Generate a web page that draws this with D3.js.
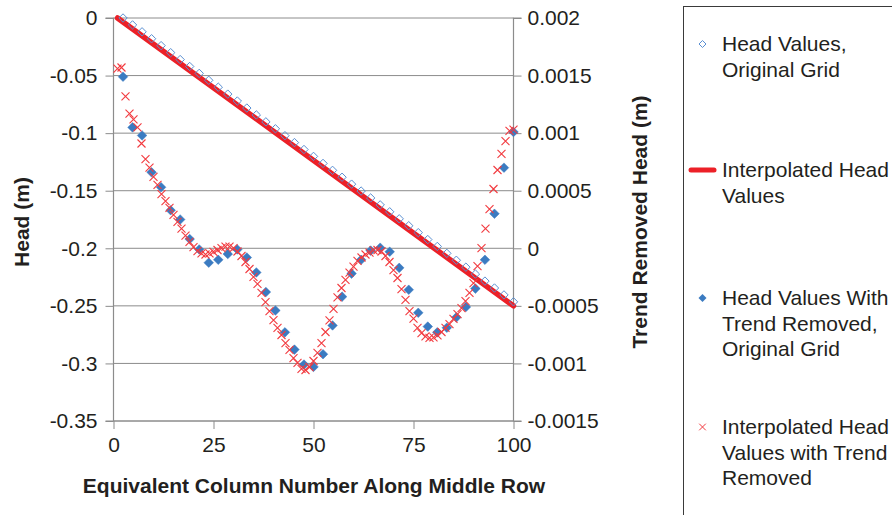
<!DOCTYPE html>
<html><head><meta charset="utf-8">
<script src="https://cdn.jsdelivr.net/npm/d3@7"></script>
<style>
html,body{margin:0;padding:0;background:#fff;}
svg{display:block;font-family:"Liberation Sans",Arial,Helvetica,sans-serif;}
</style></head>
<body>
<svg id="chart" width="892" height="515"></svg>
<script>
// ---- data ----
const xOriginal = [2.38,4.76,7.14,9.52,11.90,14.29,16.67,19.05,21.43,23.81,26.19,28.57,30.95,33.33,35.71,38.10,40.48,42.86,45.24,47.62,50.00,52.38,54.76,57.14,59.52,61.90,64.29,66.67,69.05,71.43,73.81,76.19,78.57,80.95,83.33,85.71,88.10,90.48,92.86,95.24,97.62,100];
const headOriginal = [0,-0.0060,-0.0120,-0.0180,-0.0240,-0.0301,-0.0361,-0.0421,-0.0481,-0.0541,-0.0601,-0.0661,-0.0721,-0.0782,-0.0842,-0.0902,-0.0962,-0.1022,-0.1082,-0.1142,-0.1202,-0.1263,-0.1323,-0.1383,-0.1443,-0.1503,-0.1563,-0.1623,-0.1683,-0.1744,-0.1804,-0.1864,-0.1924,-0.1984,-0.2044,-0.2104,-0.2164,-0.2224,-0.2285,-0.2345,-0.2405,-0.2465];
const trendRemovedOriginal = [0.00149,0.00105,0.00098,0.00066,0.00053,0.00033,0.00025,0.00008,-0.00001,-0.000125,-0.0001,-0.00005,-0.00001,-0.00008,-0.00021,-0.00038,-0.00054,-0.00073,-0.00088,-0.00101,-0.00103,-0.00092,-0.00067,-0.00042,-0.00022,-0.0001,-0.00002,0.000005,-0.00003,-0.00017,-0.00036,-0.00056,-0.00068,-0.00073,-0.00069,-0.0006,-0.00051,-0.00035,-0.0001,0.0003,0.0007,0.00101];
const xInterpolated = [1,2,3,4,5,6,7,8,9,10,11,12,13,14,15,16,17,18,19,20,21,22,23,24,25,26,27,28,29,30,31,32,33,34,35,36,37,38,39,40,41,42,43,44,45,46,47,48,49,50,51,52,53,54,55,56,57,58,59,60,61,62,63,64,65,66,67,68,69,70,71,72,73,74,75,76,77,78,79,80,81,82,83,84,85,86,87,88,89,90,91,92,93,94,95,96,97,98,99,100];
const trendRemovedInterpolated = [0.00156,0.00157,0.00132,0.00117,0.00112,0.00105,0.00091,0.000775,0.0007,0.00062,0.00055,0.00047,0.00041,0.00035,0.00029,0.00023,0.00017,0.00011,0.000055,0.00001,-0.000024,-0.000045,-0.000054,-0.000045,-0.000032,-0.000015,0.000002,0.000015,0.000015,0.000002,-0.000028,-0.000067,-0.000119,-0.00018,-0.000249,-0.00031,-0.000388,-0.000467,-0.000545,-0.000623,-0.000692,-0.000753,-0.000823,-0.000883,-0.000953,-0.000996,-0.001048,-0.001057,-0.001031,-0.000979,-0.000909,-0.000823,-0.000727,-0.000627,-0.000527,-0.000427,-0.000345,-0.000275,-0.000212,-0.00016,-0.00011,-0.00008,-0.000054,-0.000037,-0.000018,-0.000015,-0.000028,-0.000067,-0.000119,-0.000189,-0.000258,-0.000354,-0.000449,-0.000545,-0.00061,-0.000692,-0.000736,-0.000766,-0.000779,-0.000773,-0.000757,-0.000727,-0.000692,-0.000658,-0.000614,-0.000571,-0.000519,-0.000458,-0.000388,-0.000302,-0.000154,0.000002,0.00017,0.00034,0.000515,0.00068,0.00082,0.00093,0.00102,0.00103];
const xLine = [1,100];
const headLine = [0,-0.25];
const xTicks = [0,25,50,75,100];
const leftTicks = [0,-0.05,-0.1,-0.15,-0.2,-0.25,-0.3,-0.35];
const rightTicks = [0.002,0.0015,0.001,0.0005,0,-0.0005,-0.001,-0.0015];
const legendLabels = [["Head Values,","Original Grid"],["Interpolated Head","Values"],["Head Values With","Trend Removed,","Original Grid"],["Interpolated Head","Values with Trend","Removed"]];

// ---- drawing ----
const svg = d3.select("#chart");
const L = 113.5, R = 513.5, T = 18, B = 421;
const x = d3.scaleLinear().domain([0,100]).range([L,R]);
const yL = d3.scaleLinear().domain([-0.35,0]).range([B,T]);
const yR = d3.scaleLinear().domain([-0.0015,0.002]).range([B,T]);
const gridColor = "#8c8c8c", textColor = "#231f20", fs = 21;
const RED = "#ec2027", XRED = "#f23a3f", BLUE = "#3b7bc1", LBLUE = "#5a8fd2";

// gridlines
svg.append("g").selectAll("line").data(leftTicks).join("line")
  .attr("x1", L).attr("x2", R).attr("y1", d => yL(d)).attr("y2", d => yL(d))
  .attr("stroke", gridColor).attr("stroke-width", 1);

// left axis
const gl = svg.append("g").attr("transform", `translate(${L},0)`)
  .call(d3.axisLeft(yL).tickValues(leftTicks).tickSize(8).tickPadding(8).tickFormat(d => String(d)));
// right axis
const gr = svg.append("g").attr("transform", `translate(${R},0)`)
  .call(d3.axisRight(yR).tickValues(rightTicks).tickSize(8).tickPadding(6).tickFormat(d => String(d)));
// bottom axis
const gb = svg.append("g").attr("transform", `translate(0,${B})`)
  .call(d3.axisBottom(x).tickValues(xTicks).tickSize(8).tickPadding(8).tickFormat(d => String(d)));
[gl,gr,gb].forEach(g => {
  g.select(".domain").attr("stroke", gridColor).attr("stroke-width", 1.2);
  g.selectAll(".tick line").attr("stroke", gridColor).attr("stroke-width", 1);
  g.selectAll("text").attr("fill", textColor).style("font-size", fs + "px")
    .style("font-family", '"Liberation Sans",Arial,sans-serif');
});
gl.select(".domain").attr("d", `M-8,${B}H0V${T}H-8`);
gr.select(".domain").attr("d", `M8,${B}H0V${T}H8`);
gb.select(".domain").attr("d", `M${L},0H${R}`);

// titles
svg.append("text").attr("transform", "translate(29,222) rotate(-90)").attr("text-anchor","middle")
  .attr("fill", textColor).style("font-size", fs+"px").style("font-weight","bold").text("Head (m)");
svg.append("text").attr("transform", "translate(647,222) rotate(-90)").attr("text-anchor","middle")
  .attr("fill", textColor).style("font-size", fs+"px").style("font-weight","bold").text("Trend Removed Head (m)");
svg.append("text").attr("x", 314).attr("y", 493).attr("text-anchor","middle")
  .attr("fill", textColor).style("font-size", fs+"px").style("font-weight","bold").text("Equivalent Column Number Along Middle Row");

// series
const diamondPath = r => `M0,${-r}L${r},0L0,${r}L${-r},0Z`;
const crossPath = r => `M${-r},${-r}L${r},${r}M${-r},${r}L${r},${-r}`;

svg.append("path").datum(xLine.map((v,i)=>[v,headLine[i]]))
  .attr("d", d3.line().x(d=>x(d[0])).y(d=>yL(d[1])))
  .attr("fill","none").attr("stroke", RED).attr("stroke-width", 5.5).attr("stroke-linecap","round");

svg.append("g").selectAll("path").data(xOriginal.map((v,i)=>[v,headOriginal[i]])).join("path")
  .attr("transform", d => `translate(${x(d[0])},${yL(d[1])})`)
  .attr("d", diamondPath(4.2)).attr("fill","none").attr("stroke", LBLUE).attr("stroke-width", 1);

svg.append("g").selectAll("path").data(xOriginal.map((v,i)=>[v,trendRemovedOriginal[i]])).join("path")
  .attr("transform", d => `translate(${x(d[0])},${yR(d[1])})`)
  .attr("d", diamondPath(4.8)).attr("fill", BLUE).attr("stroke", BLUE).attr("stroke-width", 0.5);

svg.append("g").selectAll("path").data(xInterpolated.map((v,i)=>[v,trendRemovedInterpolated[i]])).join("path")
  .attr("transform", d => `translate(${x(d[0])},${yR(d[1])})`)
  .attr("d", crossPath(4)).attr("fill","none").attr("stroke", XRED).attr("stroke-width", 1.1);

// legend
svg.append("rect").attr("x", 683.5).attr("y", 6.5).attr("width", 300).attr("height", 600)
  .attr("fill","none").attr("stroke","#3a3a3a").attr("stroke-width",1);
const legY = [44, 170, 298, 427];
const lg = svg.append("g");
legendLabels.forEach((lines, i) => {
  const t = lg.append("text").attr("x", 722).attr("y", legY[i]).attr("fill", textColor)
    .style("font-size", fs+"px");
  lines.forEach((s, j) => t.append("tspan").attr("x", 722).attr("y", legY[i] + j*25.5).attr("dy","0.35em").text(s));
});
lg.append("path").attr("transform", `translate(702.5,${legY[0]})`).attr("d", diamondPath(3.5))
  .attr("fill","none").attr("stroke", LBLUE).attr("stroke-width",1);
lg.append("line").attr("x1",691).attr("x2",714).attr("y1",legY[1]).attr("y2",legY[1])
  .attr("stroke", RED).attr("stroke-width",5).attr("stroke-linecap","round");
lg.append("path").attr("transform", `translate(702.5,${legY[2]})`).attr("d", diamondPath(4))
  .attr("fill", BLUE);
lg.append("path").attr("transform", `translate(702.5,${legY[3]})`).attr("d", crossPath(3.3))
  .attr("fill","none").attr("stroke", XRED).attr("stroke-width",1);
</script>
</body></html>
